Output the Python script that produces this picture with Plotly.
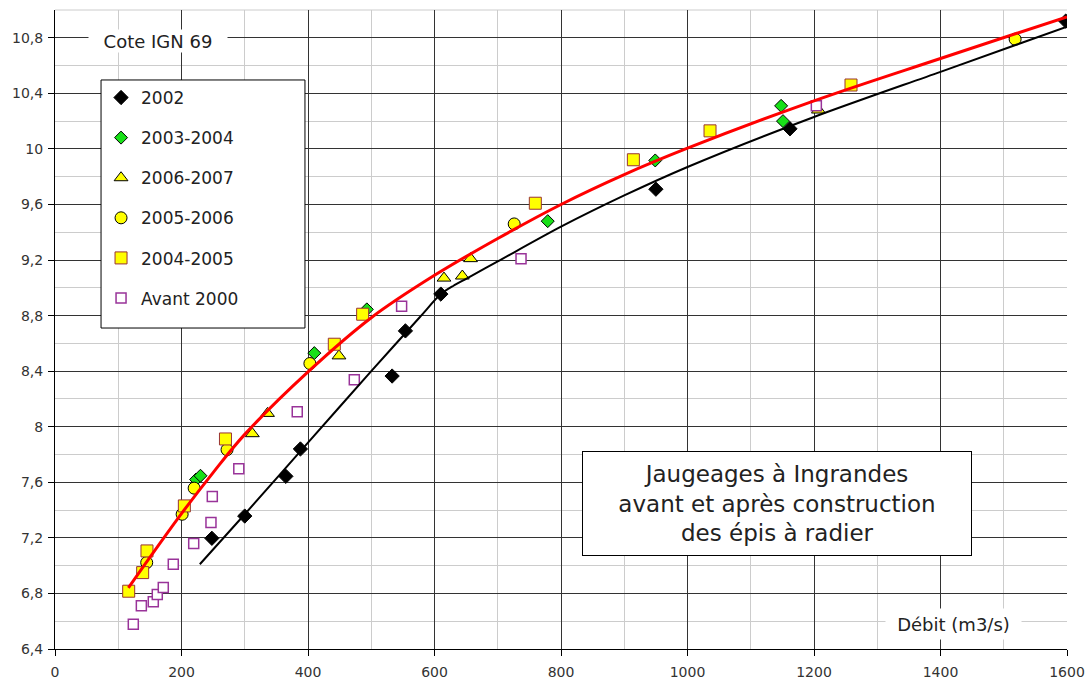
import plotly.graph_objects as go

# ---------------- data ----------------
x_2002 = [248, 300, 365, 388, 533, 554, 610, 950, 1162, 1598]
y_2002 = [7.197, 7.357, 7.643, 7.84, 8.365, 8.69, 8.955, 9.71, 10.145, 10.92]

x_0304 = [223, 230, 410, 493, 779, 949, 1148, 1151]
y_0304 = [7.62, 7.647, 8.53, 8.845, 9.48, 9.917, 10.31, 10.20]

x_0607 = [312, 336, 449, 615, 644, 657, 1207]
y_0607 = [7.95, 8.096, 8.51, 9.07, 9.085, 9.21, 10.28]

x_0506 = [145, 201, 220, 272, 403, 726, 1518]
y_0506 = [7.022, 7.37, 7.558, 7.835, 8.455, 9.46, 10.79]

x_0405 = [116.5, 138.6, 145.4, 204.5, 269.5, 441.6, 486.4, 759.4, 914.4, 1035.6, 1258.5]
y_0405 = [6.816, 6.95, 7.106, 7.43, 7.912, 8.594, 8.81, 9.609, 9.922, 10.13, 10.46]

x_av2000 = [123.8, 136.5, 155.4, 161.7, 171.2, 187, 219.3, 246.6, 248.7, 290.6, 383, 473.2, 548, 736.8, 1203.7]
y_av2000 = [6.579, 6.711, 6.74, 6.793, 6.843, 7.01, 7.159, 7.31, 7.498, 7.697, 8.108, 8.338, 8.867, 9.21, 10.31]

# rating curves
x_curve_after = [116, 150, 200, 250, 300, 400, 500, 600, 700, 800, 900, 1000, 1200, 1400, 1600]
y_curve_after = [6.84, 7.06, 7.375, 7.67, 7.945, 8.395, 8.785, 9.09, 9.355, 9.60, 9.815, 10.005, 10.346, 10.651, 10.951]

x_curve_2002 = [229, 300, 400, 500, 577, 610, 630, 650, 700, 800, 900, 1000, 1200, 1400, 1600]
y_curve_2002 = [7.01, 7.37, 7.885, 8.40, 8.79, 8.955, 9.015, 9.065, 9.19, 9.44, 9.665, 9.87, 10.23, 10.555, 10.88]

x_ticks = [0, 200, 400, 600, 800, 1000, 1200, 1400, 1600]
y_ticks = [6.4, 6.8, 7.2, 7.6, 8.0, 8.4, 8.8, 9.2, 9.6, 10.0, 10.4, 10.8]
y_ticklabels = ["6,4", "6,8", "7,2", "7,6", "8", "8,4", "8,8", "9,2", "9,6", "10", "10,4", "10,8"]

y_title = "Cote IGN 69"
x_title = "Débit (m3/s)"
box_text = "Jaugeages à Ingrandes<br>avant et après construction<br>des épis à radier"

FONT = "DejaVu Sans"
TXT = "#222222"

fig = go.Figure()

def add_points(x, y, name, symbol, size, fill, line_color, line_w=1):
    fig.add_trace(go.Scatter(
        x=x, y=y, mode="markers", name=name, legendgroup=name,
        marker=dict(symbol=symbol, size=size, color=fill,
                    line=dict(color=line_color, width=line_w)),
    ))

add_points(x_2002, y_2002, "2002", "diamond", 11, "#000000", "#000000")
add_points(x_0304, y_0304, "2003-2004", "diamond", 10, "#18e018", "#000000")
add_points(x_0607, y_0607, "2006-2007", "triangle-up", 12, "#ffff00", "#000000")
add_points(x_0506, y_0506, "2005-2006", "circle", 12, "#ffff00", "#000000")
add_points(x_0405, y_0405, "2004-2005", "square", 12, "#ffff00", "#993333")
add_points(x_av2000, y_av2000, "Avant 2000", "square", 10, "#ffffff", "#993399", 1.5)

fig.add_trace(go.Scatter(x=x_curve_2002, y=y_curve_2002, mode="lines",
                         line=dict(color="#000000", width=2, shape="spline", smoothing=0.8),
                         showlegend=False, hoverinfo="skip"))
fig.add_trace(go.Scatter(x=x_curve_after, y=y_curve_after, mode="lines",
                         line=dict(color="#ff0000", width=3, shape="spline", smoothing=1.0),
                         showlegend=False, hoverinfo="skip"))

fig.update_layout(
    width=1091, height=680,
    margin=dict(l=55, r=24, t=10, b=31),
    paper_bgcolor="white", plot_bgcolor="white",
    font=dict(family=FONT, color=TXT),
    showlegend=True,
    legend=dict(x=0.0455, y=0.8905, xanchor="left", yanchor="top",
                bgcolor="rgba(0,0,0,0)", borderwidth=0,
                font=dict(family=FONT, size=17, color=TXT),
                tracegroupgap=15, itemsizing="trace"),
    xaxis=dict(range=[0, 1600], tickvals=x_ticks, ticktext=[str(v) for v in x_ticks],
               showgrid=True, gridcolor="#333333", gridwidth=1,
               minor=dict(dtick=100, tick0=0, showgrid=True, gridcolor="#cccccc", gridwidth=1),
               showline=True, linecolor="#000000", linewidth=1,
               ticks="outside", ticklen=6, tickcolor="#000000",
               tickfont=dict(family=FONT, size=14, color="#333333"),
               ticklabelstandoff=4,
               zeroline=False, automargin=False),
    yaxis=dict(range=[6.4, 11.0], tickvals=y_ticks, ticktext=y_ticklabels,
               showgrid=True, gridcolor="#333333", gridwidth=1,
               minor=dict(dtick=0.2, tick0=6.4, showgrid=True, gridcolor="#cccccc", gridwidth=1),
               showline=True, linecolor="#000000", linewidth=1,
               ticks="outside", ticklen=6, tickcolor="#000000",
               tickfont=dict(family=FONT, size=14, color="#333333"),
               ticklabelstandoff=2,
               zeroline=False, automargin=False),
    shapes=[
        dict(type="rect", xref="paper", yref="paper", x0=0.0455, x1=0.247, y0=0.5023, y1=0.8905,
             fillcolor="white", line=dict(color="#000000", width=1), layer="above"),
        dict(type="line", xref="paper", yref="paper", x0=0, x1=1, y0=1, y1=1,
             line=dict(color="#cccccc", width=1), layer="below"),
    ],
    annotations=[
        dict(text=y_title, xref="paper", yref="y", x=0.1018, y=10.778, showarrow=False,
             font=dict(family=FONT, size=18, color=TXT), bgcolor="white",
             width=138, height=22, borderpad=0,
             xanchor="center", yanchor="middle"),
        dict(text=x_title, xref="x", yref="y", x=1420.6, y=6.579, showarrow=False,
             font=dict(family=FONT, size=18, color=TXT), bgcolor="white",
             width=135, height=30, borderpad=0,
             xanchor="center", yanchor="middle"),
        dict(text=box_text, xref="x", yref="y", x=1141.5, y=7.444, showarrow=False,
             font=dict(family=FONT, size=23, color=TXT), bgcolor="white",
             bordercolor="#000000", borderwidth=1, width=386, height=101,
             xanchor="center", yanchor="middle", align="center"),
    ],
)

fig.write_html("out.html")
